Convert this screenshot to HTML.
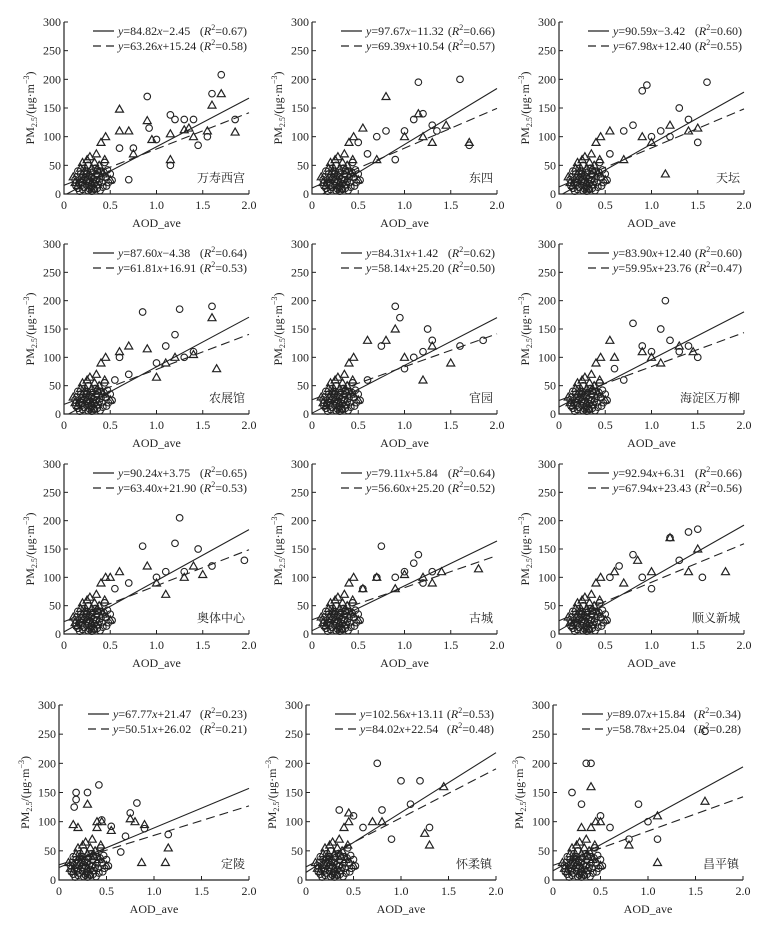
<!DOCTYPE html>
<html><head><meta charset="utf-8"><style>
body{margin:0;background:#fff}
svg text{font-family:"Liberation Serif","Noto Serif CJK SC",serif;fill:#222}
</style></head><body>
<svg id="fig" width="768" height="934" xmlns="http://www.w3.org/2000/svg"></svg>
<script>
const stations=["万寿西宫","东四","天坛","农展馆","官园","海淀区万柳","奥体中心","古城","顺义新城","定陵","怀柔镇","昌平镇"];
const slopes1=[84.82,97.67,90.59,87.60,84.31,83.90,90.24,79.11,92.94,67.77,102.56,89.07];
const icpt1=[-2.45,-11.32,-3.42,-4.38,1.42,12.40,3.75,5.84,6.31,21.47,13.11,15.84];
const r2a=["0.67","0.66","0.60","0.64","0.62","0.60","0.65","0.64","0.66","0.23","0.53","0.34"];
const slopes2=[63.26,69.39,67.98,61.81,58.14,59.95,63.40,56.60,67.94,50.51,84.02,58.78];
const icpt2=[15.24,10.54,12.40,16.91,25.20,23.76,21.90,25.20,23.43,26.02,22.54,25.04];
const r2b=["0.58","0.57","0.55","0.53","0.50","0.47","0.53","0.52","0.56","0.21","0.48","0.28"];
const xTicks=[0,0.5,1.0,1.5,2.0];
const yTicks=[0,50,100,150,200,250,300];
const base="0.15,10 0.2,20 0.25,15 0.3,30 0.35,25 0.4,40 0.18,35 0.22,45 0.28,8 0.33,18 0.38,22 0.42,12 0.45,30 0.12,25 0.17,5 0.26,50 0.31,38 0.36,10 0.48,20 0.5,35 0.23,28 0.29,12 0.34,45 0.4,28 0.2,8 0.44,55 0.15,40 0.27,33 0.16,18 0.19,28 0.21,12 0.24,22 0.26,6 0.3,14 0.32,26 0.35,34 0.37,16 0.39,6 0.41,20 0.43,38 0.46,14 0.52,24 0.14,30 0.13,14 0.24,36 0.28,24 0.33,8 0.36,42 0.2,16 0.3,5 0.25,40 0.47,42";
const circles=[
base+" 0.6,80 0.7,25 0.75,80 0.9,170 0.92,115 1.0,95 1.15,138 1.2,130 1.3,130 1.4,130 1.45,85 1.55,100 1.6,175 1.7,208 1.85,130 1.15,50",
base+" 0.6,70 0.7,100 0.8,110 0.9,60 1.0,110 1.1,130 1.15,195 1.2,140 1.3,120 1.35,110 1.6,200 1.7,85 0.5,90",
base+" 0.55,70 0.7,110 0.8,120 0.9,180 0.95,190 1.0,100 1.1,110 1.2,100 1.3,150 1.4,130 1.5,90 1.6,195",
base+" 0.55,60 0.7,70 0.85,180 1.0,90 1.1,120 1.2,140 1.25,185 1.3,100 1.4,110 1.6,190 0.6,100",
base+" 0.6,60 0.75,120 0.9,190 0.95,170 1.0,80 1.1,100 1.2,110 1.25,150 1.3,130 1.6,120 1.85,130",
base+" 0.6,80 0.7,60 0.8,160 0.9,120 1.0,110 1.1,150 1.15,200 1.2,130 1.3,110 1.4,120 1.5,100",
base+" 0.55,80 0.7,90 0.85,155 1.0,100 1.1,110 1.2,160 1.25,205 1.3,110 1.45,150 1.6,120 1.95,130",
base+" 0.55,80 0.7,100 0.75,155 0.9,100 1.0,110 1.1,125 1.15,140 1.2,90 1.3,110",
base+" 0.55,100 0.65,120 0.8,140 0.9,100 1.0,80 1.2,170 1.3,130 1.4,180 1.5,185 1.55,100",
base+" 0.18,150 0.18,138 0.16,125 0.3,150 0.42,163 0.45,103 0.55,92 0.7,75 0.75,115 0.82,132 0.9,88 0.65,48 1.15,78",
base+" 0.5,110 0.6,90 0.75,200 0.8,120 1.0,170 1.1,130 1.2,170 1.3,90 0.9,70 0.35,120",
base+" 0.2,150 0.35,200 0.4,200 0.5,110 0.6,90 0.8,70 0.9,130 1.0,100 1.1,70 1.6,255 0.3,130"
];
const tbase="0.1,30 0.2,55 0.25,60 0.3,45 0.35,70 0.4,90 0.45,100 0.3,20 0.15,15 0.22,40 0.38,50 0.5,25 0.28,65 0.42,35 0.12,20 0.18,45 0.26,30 0.33,55 0.37,40 0.44,60 0.2,25 0.32,10";
const tris=[
tbase+" 0.6,148 0.6,110 0.7,110 0.75,70 0.9,128 0.95,95 1.15,105 1.15,60 1.3,112 1.35,115 1.4,100 1.55,110 1.6,155 1.7,175 1.85,108",
tbase+" 0.55,115 0.7,60 0.8,170 1.0,100 1.15,140 1.2,100 1.3,90 1.45,120 1.7,90",
tbase+" 0.55,110 0.7,60 0.9,100 1.0,90 1.15,35 1.2,120 1.4,110 1.5,115",
tbase+" 0.6,110 0.7,120 0.9,115 1.0,65 1.1,90 1.2,100 1.4,105 1.6,170 1.65,80",
tbase+" 0.6,130 0.8,130 0.9,150 1.0,100 1.2,60 1.3,120 1.5,90",
tbase+" 0.55,130 0.6,100 0.9,110 1.0,100 1.1,90 1.3,120 1.45,110",
tbase+" 0.5,100 0.6,110 0.9,120 1.0,90 1.1,70 1.3,100 1.4,120 1.5,105",
tbase+" 0.55,80 0.7,100 0.9,80 1.0,105 1.2,100 1.3,90 1.4,110 1.8,115",
tbase+" 0.6,110 0.7,90 0.85,130 1.0,110 1.2,170 1.4,110 1.5,150 1.8,110",
tbase+" 0.15,95 0.2,90 0.3,130 0.4,100 0.55,85 0.75,105 0.8,100 0.9,95 0.87,30 1.12,30 1.15,55",
tbase+" 0.45,115 0.7,100 0.8,100 1.25,80 1.3,60 1.45,160",
tbase+" 0.3,90 0.4,160 0.5,100 0.8,60 1.1,30 1.1,110 1.6,135"
];
const svg=document.getElementById('fig');
const NS="http://www.w3.org/2000/svg";
function mk(tag,attrs,parent){const e=document.createElementNS(NS,tag);for(const k in attrs)e.setAttribute(k,attrs[k]);(parent||svg).appendChild(e);return e;}
const colX=[[64,312,559],[64,312,559],[64,312,559],[59,306,553]];
const rowB=[194,414,634,880];
const rowH=[172,170,170,175];
const rowW=[185,185,185,190];
for(let i=0;i<12;i++){
 const r=Math.floor(i/3),c=i%3;
 const x0=colX[r][c],y0=rowB[r],W=rowW[r],H=rowH[r];
 const sx=v=>x0+v/2*W, sy=v=>y0-v/300*H;
 const g=mk('g',{});
 
 
 const ax=mk('path',{d:`M${x0},${y0-H}V${y0}H${x0+W}`,stroke:'#222','stroke-width':1.2,fill:'none'},g);
 
 
 xTicks.forEach(t=>{mk('line',{x1:sx(t),x2:sx(t),y1:y0,y2:y0-4,stroke:'#222'},g);
  const tx=mk('text',{x:sx(t),y:y0+15,'text-anchor':'middle','font-size':12},g);tx.textContent=t===0?'0':t.toFixed(1);
  
  });
 yTicks.forEach(t=>{mk('line',{x1:x0,x2:x0+4,y1:sy(t),y2:sy(t),stroke:'#222'},g);
  const ty=mk('text',{x:x0-3,y:sy(t)+4,'text-anchor':'end','font-size':12},g);ty.textContent=t;
  
  });
 const xl=mk('text',{x:x0+W/2,y:y0+33,'text-anchor':'middle','font-size':12},g);xl.textContent='AOD_ave';
 
 
 const yl=mk('text',{transform:`translate(${x0-30},${y0-H/2}) rotate(-90)`,'text-anchor':'middle','font-size':12},g);
 yl.innerHTML='PM<tspan font-size="8" dy="3">2.5</tspan><tspan dy="-3">/(μg·m</tspan><tspan font-size="8" dy="-5">−3</tspan><tspan dy="5">)</tspan>';
 
 
 const st=mk('text',{x:x0+W-4,y:y0-12,'text-anchor':'end','font-size':12},g);st.textContent=stations[i];
 
 
 circles[i].split(' ').forEach(p=>{const [a,b]=p.split(',').map(Number);
  const e=mk('circle',{cx:sx(a),cy:sy(b),r:3.3,fill:'none',stroke:'#222','stroke-width':1.1},g);
  
  });
 tris[i].split(' ').forEach(p=>{const [a,b]=p.split(',').map(Number);const X=sx(a),Y=sy(b);
  const e=mk('path',{d:`M${X},${Y-4}L${X+4},${Y+3}L${X-4},${Y+3}Z`,fill:'none',stroke:'#222','stroke-width':1.2},g);
  
  });
 [[slopes1[i],icpt1[i],''],[slopes2[i],icpt2[i],'9,5']].forEach((L,k)=>{
  const xs=Math.max(0,-L[1]/L[0]);
  const e=mk('line',{x1:sx(xs),y1:sy(L[0]*xs+L[1]),x2:sx(2),y2:sy(L[0]*2+L[1]),stroke:'#222','stroke-width':1.1,'stroke-dasharray':L[2]},g);
  
  });
 [[slopes1[i],icpt1[i],r2a[i],''],[slopes2[i],icpt2[i],r2b[i],'8,5']].forEach((L,k)=>{
  const ly=y0-H+9+k*15;
  mk('line',{x1:x0+29,x2:x0+50,y1:ly,y2:ly,stroke:'#222','stroke-width':1.3,'stroke-dasharray':L[3]},g);
  const t=mk('text',{x:x0+54,y:ly+4,'font-size':12},g);
  const sgn=L[1]<0?'−':'+';
  t.innerHTML=`<tspan font-style="italic">y</tspan>=${L[0].toFixed(2)}<tspan font-style="italic">x</tspan>${sgn}${Math.abs(L[1]).toFixed(2)}`;
  
  
  const t2=mk('text',{x:x0+W-2,y:ly+4,'font-size':12,'text-anchor':'end'},g);
  t2.innerHTML=`(<tspan font-style="italic">R</tspan><tspan font-size="8" dy="-5">2</tspan><tspan dy="5">=${L[2]})</tspan>`;
  
  
 });
}
</script>
</body></html>
